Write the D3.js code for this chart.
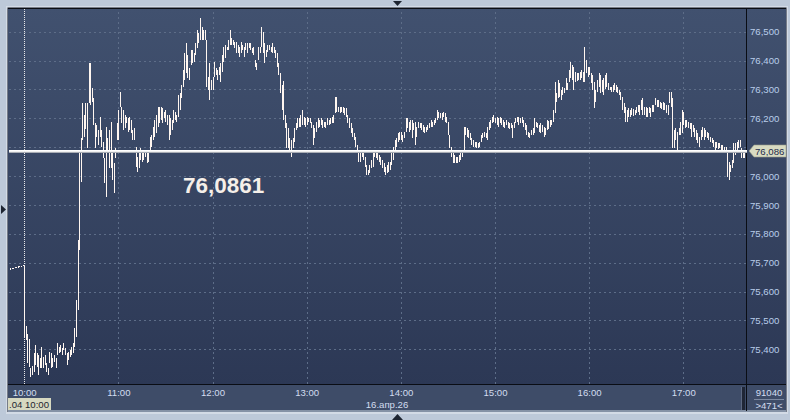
<!DOCTYPE html>
<html><head><meta charset="utf-8">
<script src="https://cdn.jsdelivr.net/npm/d3@7"></script>
<style>
html,body{margin:0;padding:0;background:#bdc9d9;}
svg{display:block;font-family:"Liberation Sans",Arial,sans-serif;}
</style>
</head><body>
<svg id="c" width="790" height="420"></svg>
<script>
// ---------- data ----------
const barStart = new Date(2026, 3, 16, 9, 51); // first bar (pre-session), 1-minute bars
const lastPrice = 76.086;
const bigLabel = "76,0861";
const yTickValues = [75.4, 75.5, 75.6, 75.7, 75.8, 75.9, 76.0, 76.1, 76.2, 76.3, 76.4, 76.5];
const xTickHours = [10, 11, 12, 13, 14, 15, 16, 17];
const dateLabel = "16.апр.26";
const cursorLabel = ".04 10:00";
const infoTop = "91040";
const infoBottom = ">471<";

const barHigh = [
75.680,75.681,75.683,75.684,75.686,75.687,75.688,75.690,75.692,
75.690,75.480,75.453,75.435,75.335,75.342,75.387,75.415,75.387,75.380,
75.370,75.408,75.373,75.380,75.353,75.335,75.391,75.387,75.370,75.380,
75.370,75.421,75.408,75.415,75.404,75.421,75.404,75.387,75.391,75.397,
75.408,75.421,75.474,75.571,75.778,76.080,
76.132,76.253,76.211,76.253,76.253,76.392,76.392,76.305,76.270,76.184,
76.177,76.160,76.205,76.160,76.118,76.063,76.170,76.132,76.160,76.187,
76.080,76.045,76.097,76.184,76.229,76.291,76.239,76.229,76.211,76.205,
76.201,76.205,76.194,76.160,76.166,76.101,76.066,76.080,76.097,76.090,
76.080,76.090,76.080,76.090,76.135,76.142,76.170,76.194,76.211,76.239,
76.239,
76.239,76.236,76.222,76.229,76.211,76.211,76.201,76.194,76.229,76.222,76.211,76.281,76.288,
76.315,76.367,76.426,76.461,76.419,76.374,76.437,76.437,76.426,76.461,
76.506,76.495,76.547,76.516,76.506,76.506,76.471,76.343,76.392,76.333,
76.343,76.395,76.374,76.367,76.378,76.392,76.419,76.447,76.454,76.447,
76.471,76.506,76.478,76.471,76.464,76.464,76.454,76.447,76.464,76.454,
76.447,76.461,76.461,76.461,76.461,76.444,76.447,76.402,76.392,76.447,
76.447,76.516,76.499,76.461,76.437,76.454,76.454,76.447,76.461,76.447,
76.437,76.426,76.392,76.357,76.315,
76.330,76.211,76.184,76.166,76.132,76.125,76.132,76.166,76.184,76.201,
76.201,76.211,76.229,76.205,76.201,76.205,76.201,76.201,76.187,76.177,
76.166,76.187,76.201,76.194,76.201,76.194,76.187,76.187,76.201,76.194,
76.201,
76.205,76.211,76.274,76.274,76.239,76.239,76.239,76.239,76.236,76.236,
76.211,76.201,76.184,76.166,76.149,76.135,76.108,76.090,76.083,76.083,
76.080,76.066,76.038,76.021,76.038,76.056,76.083,76.083,76.080,76.080,
76.073,
76.066,76.056,76.045,76.031,76.038,76.049,76.049,76.083,76.101,76.125,
76.132,76.149,76.153,76.153,76.142,76.153,76.201,76.201,76.187,76.194,
76.194,76.184,76.187,76.170,76.187,76.184,76.184,76.177,76.170,76.170,
76.177,
76.184,76.194,76.187,76.194,76.201,76.229,76.222,76.218,76.218,76.222,
76.218,76.205,76.187,76.142,76.101,76.083,76.073,76.066,76.066,76.073,
76.083,76.083,76.170,76.170,76.166,
76.160,
76.149,76.132,76.125,76.118,76.118,
76.114,76.118,76.142,76.149,76.153,76.149,76.170,76.187,76.194,76.205,
76.211,76.201,76.205,76.201,76.205,76.201,76.194,76.187,76.194,76.187,
76.184,
76.184,76.177,76.187,76.201,76.205,76.205,76.201,
76.205,76.194,76.184,76.177,76.153,76.149,76.160,76.166,76.201,76.187,
76.184,76.177,76.184,76.177,76.170,76.166,76.194,
76.190,
76.194,76.194,76.229,76.326,76.288,76.333,76.322,76.298,76.308,76.305,
76.340,76.322,76.367,76.395,76.385,76.378,76.360,
76.357,
76.357,76.360,76.367,76.360,76.447,76.402,76.378,76.378,76.357,76.350,
76.326,76.298,76.333,76.357,76.350,76.333,76.340,
76.350,
76.357,76.322,76.308,76.308,76.315,76.322,76.315,76.308,76.298,76.291,
76.274,76.253,76.239,76.229,76.236,76.229,76.236,
76.232,
76.229,76.239,76.246,76.246,76.263,76.270,76.239,76.239,76.236,76.239,
76.236,76.246,76.246,76.270,76.263,76.263,76.256,
76.253,
76.256,76.253,76.246,76.246,76.291,76.291,76.270,76.160,76.166,76.153,
76.166,76.187,76.229,76.222,76.194,76.194,76.187,
76.184,
76.184,76.177,76.166,76.160,76.149,76.135,76.160,76.170,76.166,76.160,
76.153,76.149,76.135,76.132,76.125,76.118,76.118,
76.115,
76.114,76.108,76.108,76.101,76.101,76.080,76.049,76.038,76.056,76.114,76.114,
76.118,
76.125,76.125,76.097,76.090,76.090
];

const barLow = [
75.676,75.677,75.679,75.680,75.682,75.683,75.684,75.686,75.688,
75.440,75.433,75.353,75.339,75.304,75.311,75.321,75.346,75.339,75.311,
75.335,75.335,75.335,75.346,75.321,75.311,75.353,75.335,75.339,75.356,
75.335,75.380,75.387,75.391,75.380,75.397,75.380,75.346,75.363,75.373,
75.380,75.387,75.408,75.442,75.536,75.744,
75.979,76.125,76.135,76.163,76.097,76.253,76.246,76.256,76.177,76.097,
76.135,76.108,76.135,76.101,76.063,75.976,75.927,76.080,76.028,76.028,
75.986,75.941,76.063,76.125,76.125,76.239,76.184,76.160,76.166,76.184,
76.153,76.160,76.149,76.125,76.125,76.031,76.014,76.028,76.056,76.049,
76.056,76.066,76.045,76.049,76.090,76.101,76.125,76.135,76.149,76.170,
76.184,
76.194,76.184,76.201,76.187,76.177,76.125,76.142,76.160,76.184,76.194,76.187,76.205,76.229,
76.270,76.308,76.333,76.357,76.340,76.333,76.385,76.392,76.395,76.419,
76.444,76.461,76.471,76.471,76.471,76.471,76.308,76.298,76.263,76.298,
76.298,76.343,76.350,76.333,76.350,76.326,76.360,76.395,76.409,76.437,
76.437,76.454,76.454,76.454,76.444,76.426,76.426,76.412,76.426,76.437,
76.412,76.437,76.426,76.444,76.437,76.426,76.419,76.378,76.367,76.402,
76.426,76.447,76.426,76.392,76.412,76.430,76.437,76.430,76.426,76.426,
76.409,76.378,76.350,76.288,76.229,
76.194,76.166,76.097,76.097,76.083,76.066,76.097,76.118,76.160,76.166,
76.170,76.170,76.177,76.177,76.170,76.177,76.187,76.184,76.166,76.108,
76.132,76.153,76.166,76.170,76.177,76.166,76.170,76.166,76.177,76.177,
76.180,
76.184,76.184,76.218,76.222,76.222,76.218,76.222,76.218,76.211,76.205,
76.184,76.166,76.149,76.135,76.125,76.101,76.083,76.049,76.049,76.066,
76.056,76.031,76.004,76.004,76.010,76.028,76.031,76.066,76.063,76.056,
76.049,
76.038,76.028,76.014,76.004,76.010,76.014,76.021,76.038,76.056,76.090,
76.101,76.118,76.125,76.125,76.118,76.132,76.153,76.166,76.153,76.160,
76.132,76.160,76.108,76.135,76.166,76.166,76.160,76.153,76.149,76.153,
76.160,
76.166,76.170,76.170,76.177,76.184,76.194,76.201,76.201,76.194,76.205,
76.187,76.184,76.142,76.097,76.066,76.045,76.045,76.045,76.045,76.049,
76.056,76.066,76.083,76.142,76.135,
76.132,
76.125,76.108,76.101,76.101,76.097,
76.097,76.101,76.118,76.132,76.135,76.132,76.125,76.160,76.166,76.184,
76.187,76.184,76.177,76.170,76.184,76.177,76.170,76.166,76.177,76.166,
76.163,
76.166,76.132,76.166,76.184,76.187,76.177,76.184,
76.184,76.170,76.160,76.142,76.135,76.132,76.142,76.142,76.149,76.170,
76.166,76.153,76.149,76.153,76.135,76.142,76.160,
76.163,
76.170,76.177,76.187,76.218,76.256,76.270,76.274,76.263,76.281,76.288,
76.298,76.298,76.326,76.340,76.333,76.298,76.326,
76.329,
76.333,76.333,76.340,76.326,76.326,76.357,76.343,76.350,76.322,76.298,
76.236,76.256,76.291,76.308,76.288,76.291,76.281,
76.301,
76.308,76.298,76.298,76.291,76.291,76.298,76.291,76.288,76.281,76.263,
76.229,76.218,76.187,76.187,76.205,76.205,76.211,
76.208,
76.211,76.218,76.222,76.211,76.229,76.211,76.211,76.205,76.205,76.218,
76.205,76.222,76.222,76.246,76.239,76.239,76.236,
76.232,
76.229,76.229,76.218,76.211,76.253,76.239,76.097,76.097,76.125,76.083,
76.142,76.142,76.149,76.177,76.166,76.170,76.166,
76.163,
76.135,76.153,76.135,76.125,76.114,76.101,76.125,76.135,76.125,76.135,
76.132,76.125,76.118,76.114,76.101,76.090,76.097,
76.094,
76.097,76.090,76.090,76.090,76.080,75.997,75.986,76.014,76.028,76.045,76.073,
76.090,
76.097,76.101,76.063,76.063,76.063
];

// ---------- layout ----------
const W = 790, H = 420;
const plot = {l: 9, r: 747, t: 9, b: 384};
const svg = d3.select("#c");
const defs = svg.append("defs");

const grad = defs.append("linearGradient").attr("id", "bg")
  .attr("x1", 0).attr("y1", 0).attr("x2", 0).attr("y2", 1);
grad.append("stop").attr("offset", "0%").attr("stop-color", "#41516f");
grad.append("stop").attr("offset", "100%").attr("stop-color", "#2c3855");

defs.append("clipPath").attr("id", "plotclip").append("rect")
  .attr("x", plot.l).attr("y", plot.t).attr("width", plot.r - plot.l).attr("height", plot.b - plot.t);

// outer frame
svg.append("rect").attr("x", 0).attr("y", 0).attr("width", W).attr("height", H).attr("fill", "#bdc9d9");
svg.append("rect").attr("x", 6).attr("y", 6).attr("width", 782).attr("height", 408).attr("fill", "#d3dbe6");
svg.append("rect").attr("x", 7.5).attr("y", 7.5).attr("width", 779).attr("height", 404.5)
  .attr("fill", "#1a1f2a");
svg.append("rect").attr("x", 8).attr("y", 8).attr("width", 778).attr("height", 377).attr("fill", "url(#bg)");
svg.append("rect").attr("x", 8).attr("y", 385).attr("width", 778).attr("height", 26).attr("fill", "#3e4c68");
svg.append("rect").attr("x", 8).attr("y", 410).attr("width", 778).attr("height", 2).attr("fill", "#8592a6");
// separators
svg.append("rect").attr("x", 8).attr("y", 384).attr("width", 778).attr("height", 1).attr("fill", "#0a0d14");
svg.append("rect").attr("x", 746).attr("y", 8).attr("width", 1).attr("height", 403).attr("fill", "#0a0d14");
svg.append("rect").attr("x", 8).attr("y", 8).attr("width", 778).attr("height", 1).attr("fill", "#0a0d14");

// scales
const x = d3.scaleTime()
  .domain([new Date(2026, 3, 16, 9, 50, 19), new Date(2026, 3, 16, 17, 40, 37)])
  .range([plot.l, plot.r]);
const y = d3.scaleLinear().domain([75.4, 76.5]).range([349.3, 31.7]);

const hourDates = xTickHours.map(h => new Date(2026, 3, 16, h, 0));
const fmtLocale = d3.formatLocale({decimal: ",", thousands: " ", grouping: [3], currency: ["", ""]});
const fmtPrice = fmtLocale.format(".3f");

// grid
const grid = svg.append("g").attr("clip-path", "url(#plotclip)");
const hGrid = grid.append("g").attr("transform", `translate(${plot.l},0)`)
  .call(d3.axisLeft(y).tickValues(yTickValues).tickSize(-(plot.r - plot.l)).tickFormat(""));
const vGrid = grid.append("g").attr("transform", `translate(0,${plot.b})`)
  .call(d3.axisBottom(x).tickValues(hourDates.slice(1)).tickSize(-(plot.b - plot.t)).tickFormat(""));
[hGrid, vGrid].forEach(g => {
  g.select(".domain").remove();
  g.selectAll(".tick line").attr("stroke", "#5d6d88").attr("stroke-dasharray", "2,3")
    .attr("shape-rendering", "crispEdges");
});

// session start dotted line
svg.append("line").attr("x1", Math.round(x(hourDates[0])) + 0.5).attr("x2", Math.round(x(hourDates[0])) + 0.5)
  .attr("y1", plot.t).attr("y2", plot.b)
  .attr("stroke", "#e8e8ea").attr("stroke-dasharray", "1,1");

// bars
const bars = barHigh.map((h, i) => ({t: new Date(barStart.getTime() + i * 60000), h, l: barLow[i]}));
svg.append("g").attr("clip-path", "url(#plotclip)").selectAll("rect").data(bars).join("rect")
  .attr("x", d => Math.round(x(d.t)))
  .attr("y", d => Math.round(y(d.h)))
  .attr("width", 1)
  .attr("height", d => Math.max(1, Math.round(y(d.l)) - Math.round(y(d.h))))
  .attr("fill", "#fff6f0")
  .attr("shape-rendering", "crispEdges");

// last price line
const py = Math.round(y(lastPrice));
svg.append("rect").attr("x", plot.l).attr("y", py - 1).attr("width", plot.r - plot.l).attr("height", 1).attr("fill", "#ffffff");
svg.append("rect").attr("x", plot.l).attr("y", py).attr("width", plot.r - plot.l).attr("height", 1).attr("fill", "#f0f0f0");
svg.append("rect").attr("x", plot.l).attr("y", py + 1).attr("width", plot.r - plot.l).attr("height", 1).attr("fill", "#a9adb5");

// big label
svg.append("text").attr("x", 183).attr("y", 193).attr("font-size", 22.5).attr("font-weight", "bold")
  .attr("fill", "#f5efe9").text(bigLabel);

// y axis labels (the label hidden behind the last-price box is skipped)
const visibleYTicks = yTickValues.filter(v => Math.abs(y(v) - y(lastPrice)) > 8);
const yAx = svg.append("g").attr("transform", `translate(${plot.r},0)`)
  .call(d3.axisRight(y).tickValues(visibleYTicks).tickSize(0).tickPadding(3).tickFormat(fmtPrice));
yAx.select(".domain").remove();
yAx.selectAll("text").attr("fill", "#b9cdea").attr("font-size", 9.6)
  .attr("font-family", "'Liberation Sans',Arial,sans-serif");

// price label
const pl = svg.append("g");
pl.append("path")
  .attr("d", `M749,${py} L754,${py - 6} L786,${py - 6} L786,${py + 6} L754,${py + 6} Z`)
  .attr("fill", "#d8dbc2").attr("stroke", "#9aa08a").attr("stroke-width", 0.6);
pl.append("text").attr("x", 755).attr("y", py + 3.5).attr("font-size", 9.6).attr("fill", "#1c2a4a")
  .text(fmtPrice(lastPrice));

// x axis labels
const xAx = svg.append("g").attr("transform", `translate(0,${plot.b})`)
  .call(d3.axisBottom(x).tickValues(hourDates).tickSize(0).tickPadding(5).tickFormat(d3.timeFormat("%H:%M")));
xAx.select(".domain").remove();
xAx.selectAll("text").attr("fill", "#d2dcef").attr("font-size", 9.6)
  .attr("font-family", "'Liberation Sans',Arial,sans-serif");

// date label
svg.append("text").attr("x", 387).attr("y", 408).attr("text-anchor", "middle")
  .attr("font-size", 9.6).attr("fill", "#d2dcef").text(dateLabel);

// cursor time box
svg.append("rect").attr("x", 8).attr("y", 398).attr("width", 43).attr("height", 12).attr("fill", "#d6d8c0");
svg.append("text").attr("x", 49).attr("y", 407.5).attr("text-anchor", "end").attr("font-size", 9.6)
  .attr("fill", "#1e2430").text(cursorLabel);

// scroll handle
svg.append("rect").attr("x", 741).attr("y", 387).attr("width", 4).attr("height", 23).attr("fill", "#1f2636");
svg.append("rect").attr("x", 741).attr("y", 387).attr("width", 1).attr("height", 23).attr("fill", "#5b6780");

// info panel
svg.append("text").attr("x", 769).attr("y", 396).attr("text-anchor", "middle").attr("font-size", 9.6)
  .attr("fill", "#d2dcef").text(infoTop);
svg.append("rect").attr("x", 754).attr("y", 399).attr("width", 30).attr("height", 1).attr("fill", "#7d8aa2");
svg.append("text").attr("x", 769).attr("y", 409).attr("text-anchor", "middle").attr("font-size", 9.6)
  .attr("fill", "#d2dcef").text(infoBottom);

// frame arrows
svg.append("path").attr("d", "M393,1 L402,1 L397.5,6 Z").attr("fill", "#1d2431");
svg.append("path").attr("d", "M1,205 L1,214 L6,209.5 Z").attr("fill", "#1d2431");
svg.append("path").attr("d", "M392,420 L403,420 L397.5,414 Z").attr("fill", "#1d2431");
</script>
</body></html>
